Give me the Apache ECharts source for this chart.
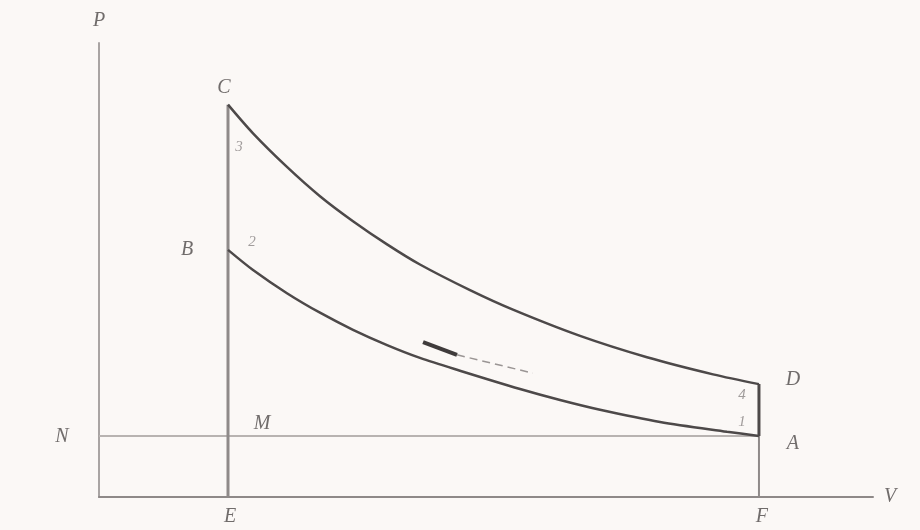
<!DOCTYPE html>
<html>
<head>
<meta charset="utf-8">
<script src="https://cdn.jsdelivr.net/npm/echarts@6/dist/echarts.min.js"></script>
<style>
html,body{margin:0;padding:0;background:#fbf8f6;}
#c{width:920px;height:530px;}
</style>
</head>
<body>
<div id="c"></div>
<script>
// Volume (x) and pressure (y) (atmospheric pressure = 1)
const expansionV = [1.000, 1.194, 1.457, 1.713, 1.969, 2.233, 2.488, 2.876, 3.209, 3.729, 4.248, 4.760, 5.116];
const expansionP = [6.43, 5.96, 5.41, 4.93, 4.52, 4.14, 3.81, 3.39, 3.07, 2.64, 2.29, 2.01, 1.85];
const compressionV = [1.000, 1.194, 1.457, 1.713, 1.969, 2.233, 2.488, 2.798, 3.264, 3.574, 3.884, 4.349, 4.868, 5.116];
const compressionP = [4.05, 3.72, 3.34, 3.02, 2.74, 2.49, 2.28, 2.07, 1.77, 1.59, 1.43, 1.23, 1.07, 1.00];
const atmP = 1.0;
const Vmin = 1.0, Vmax = 5.116;
const arrowV = [2.512, 2.775, 3.364];
const arrowP = [2.54, 2.33, 2.03];
const axisMaxV = 6, axisMaxP = 7.44;
// point labels: [name, V, P]
const pointLabels = [
  ['P', 0, axisMaxP], ['V', axisMaxV, 0],
  ['C', Vmin, 6.43], ['B', Vmin, 4.05], ['D', Vmax, 1.85], ['A', Vmax, atmP],
  ['N', 0, atmP], ['M', Vmin, atmP], ['E', Vmin, 0], ['F', Vmax, 0],
  ['3', Vmin, 6.43], ['2', Vmin, 4.05], ['4', Vmax, 1.85], ['1', Vmax, atmP]
];

const labelOffsets = {
  P:[0,-22], V:[17,0], C:[-4,-17], B:[-41,0], D:[34,-4], A:[34,8],
  N:[-37,1], M:[34,-12], E:[2,20], F:[3,20], '3':[11,42], '2':[24,-8], '4':[-17,11], '1':[-17,-14]
};

const zip = (a,b) => a.map((v,i)=>[v,b[i]]);
const dark = '#4d4949';

const chart = echarts.init(document.getElementById('c'), null, {renderer:'canvas'});
const lineBase = {type:'line', symbol:'none', silent:true, animation:false};

chart.setOption({
  backgroundColor:'#fbf8f6',
  animation:false,
  grid:{left:99, right:47, top:43, bottom:33},
  xAxis:{type:'value', min:0, max:axisMaxV, axisLine:{show:true, lineStyle:{color:'#8e8988', width:2}},
    axisTick:{show:false}, axisLabel:{show:false}, splitLine:{show:false}},
  yAxis:{type:'value', min:0, max:axisMaxP, axisLine:{show:true, lineStyle:{color:'#a9a4a3', width:2}},
    axisTick:{show:false}, axisLabel:{show:false}, splitLine:{show:false}},
  series:[
    Object.assign({}, lineBase, {data:[[0,atmP],[Vmax,atmP]], lineStyle:{color:'#b8b3b1', width:2}}),
    Object.assign({}, lineBase, {data:[[Vmin,0],[Vmin,expansionP[0]]], lineStyle:{color:'#8f8a89', width:3}}),
    Object.assign({}, lineBase, {data:[[Vmax,0],[Vmax,atmP]], lineStyle:{color:'#8f8a89', width:2}}),
    Object.assign({}, lineBase, {data:[[Vmax,atmP],[Vmax,expansionP[expansionP.length-1]]], lineStyle:{color:dark, width:3}}),
    Object.assign({}, lineBase, {data:zip(expansionV, expansionP), smooth:0.3, lineStyle:{color:dark, width:2.5}}),
    Object.assign({}, lineBase, {data:zip(compressionV, compressionP), smooth:0.3, lineStyle:{color:dark, width:2.5}}),
    Object.assign({}, lineBase, {data:[[arrowV[0],arrowP[0]],[arrowV[1],arrowP[1]]], lineStyle:{color:'#3f3b3b', width:4}}),
    Object.assign({}, lineBase, {data:[[arrowV[1],arrowP[1]],[arrowV[2],arrowP[2]]], lineStyle:{color:'#9a9594', width:1.5, type:[8,5]}}),
    {type:'scatter', symbolSize:0, silent:true, animation:false,
      data: pointLabels.map(p => ({value:[p[1],p[2]], name:p[0],
        label:{show:true, formatter:p[0], position:'inside', offset:labelOffsets[p[0]],
          fontFamily:'Liberation Serif', fontStyle:'italic',
          fontSize: /[0-9]/.test(p[0]) ? 15 : 20,
          color: /[0-9]/.test(p[0]) ? '#8a8584' : '#4d4949'}}))
    }
  ]
});
</script>
</body>
</html>
